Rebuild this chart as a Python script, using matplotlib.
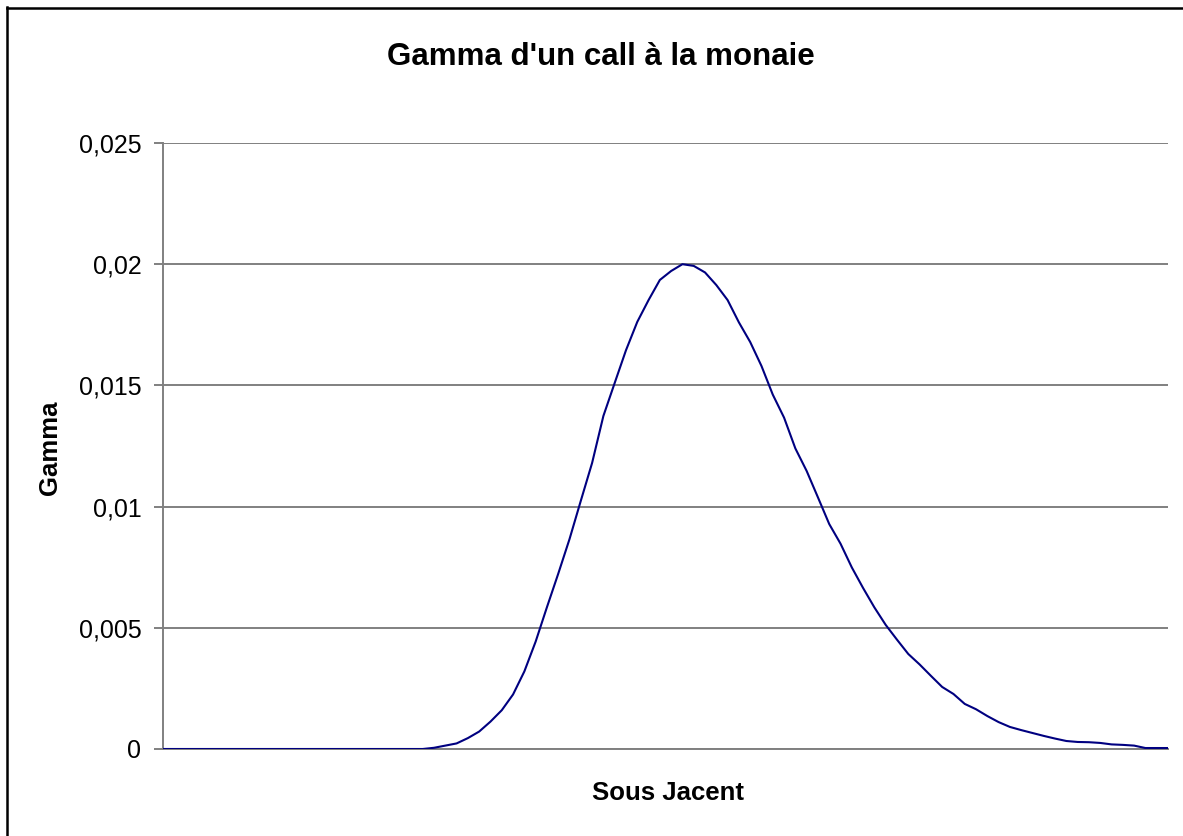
import matplotlib
matplotlib.use("Agg")
import matplotlib.pyplot as plt
from matplotlib.lines import Line2D

plt.rcParams["font.family"] = ["Liberation Sans", "DejaVu Sans"]

# ---- Data ----
gamma = [
    0, 0, 0, 0, 0, 0, 0, 0, 0, 0,
    0, 0, 0, 0, 0, 0, 0, 0, 0, 0,
    0, 0, 0, 0, 0.00005, 0.00014, 0.00023, 0.00045, 0.00072, 0.00113,
    0.0016, 0.00225, 0.0032, 0.00443, 0.00585, 0.00723, 0.00866, 0.01024, 0.0118, 0.01374,
    0.0151, 0.01645, 0.01762, 0.01852, 0.01935, 0.01972, 0.0200, 0.01993, 0.01966, 0.01914,
    0.01852, 0.0176, 0.01679, 0.0158, 0.01462, 0.01367, 0.0124, 0.01147, 0.01038, 0.00928,
    0.00847, 0.00749, 0.00664, 0.00584, 0.00512, 0.00451, 0.00392, 0.00349, 0.00302, 0.00256,
    0.00227, 0.00186, 0.00164, 0.00136, 0.00111, 0.00091, 0.00078, 0.00066, 0.00054, 0.00043,
    0.00033, 0.00029, 0.00028, 0.00025, 0.00019, 0.00017, 0.00014, 0.00004, 0.00004, 0.00004,
]
spot = list(range(len(gamma)))

y_ticks = [0, 0.005, 0.01, 0.015, 0.02, 0.025]
y_tick_labels = ["0", "0,005", "0,01", "0,015", "0,02", "0,025"]

title = "Gamma d'un call à la monaie"
x_label = "Sous Jacent"
y_label = "Gamma"

# ---- Figure ----
W, H = 1183, 836
fig = plt.figure(figsize=(W / 100, H / 100), dpi=100)
ax = fig.add_axes([163 / W, 1 - 749 / H, 1005 / W, 606 / H])

ax.plot(spot, gamma, color="#000080", linewidth=1.5, zorder=3)

ax.set_xlim(0, len(gamma) - 1)
ax.set_ylim(0, 0.025)
ax.set_yticks(y_ticks)
ax.set_yticklabels(y_tick_labels)
ax.set_xticks([])

ax.grid(axis="y", color="#808080", linewidth=1.4)
ax.set_axisbelow(True)

for side in ["top", "right"]:
    ax.spines[side].set_visible(False)
for side in ["left", "bottom"]:
    ax.spines[side].set_color("#808080")
    ax.spines[side].set_linewidth(1.4)

ax.tick_params(axis="y", length=6.5, width=1.4, color="#808080", pad=9,
               labelsize=18, labelcolor="black")

# ---- Texts ----
fig.text(601 / W, 1 - 65 / H, title, ha="center", va="baseline",
         fontsize=22.5, fontweight="bold")
fig.text(668 / W, 1 - 793 / H, x_label, ha="center", va="center",
         fontsize=18.5, fontweight="bold")
fig.text(50 / W, 1 - 448 / H, y_label, ha="center", va="center",
         rotation=90, fontsize=18.5, fontweight="bold")

# ---- Outer chart border (cropped at right and bottom) ----
fig.add_artist(Line2D([7 / W, 7 / W], [0, 1 - 7 / H], color="black",
                      linewidth=1.8, transform=fig.transFigure))
fig.add_artist(Line2D([7 / W, 1], [1 - 8 / H, 1 - 8 / H], color="black",
                      linewidth=1.8, transform=fig.transFigure))

fig.savefig("out.png", dpi=100)
